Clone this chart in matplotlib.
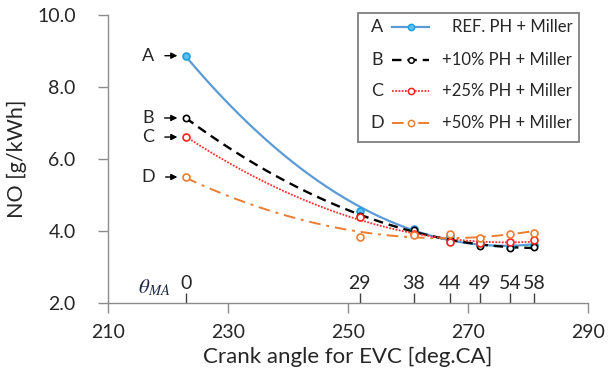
import matplotlib
matplotlib.use("Agg")
import matplotlib.pyplot as plt
import numpy as np
from matplotlib.patches import Rectangle
from matplotlib.lines import Line2D
import matplotlib.transforms as mtransforms

plt.rcParams['font.family'] = ['Lato', 'DejaVu Sans']
plt.rcParams['mathtext.fontset'] = 'stix'

# Crank angle at exhaust valve closing and matching Miller advance
theta_ma = [0, 29, 38, 44, 49, 54, 58]
crank_evc = [223, 252, 261, 267, 272, 277, 281]

series_letters = ['A', 'B', 'C', 'D']
series_labels = ['REF. PH + Miller', '+10% PH + Miller',
                 '+25% PH + Miller', '+50% PH + Miller']
no_ref = [8.87, 4.56, 4.05, 3.86, 3.63, 3.56, 3.60]
no_10 = [7.14, 4.43, 4.04, 3.75, 3.59, 3.53, 3.56]
no_25 = [6.61, 4.40, 3.92, 3.69, 3.67, 3.70, 3.75]
no_50 = [5.50, 3.83, 3.90, 3.92, 3.81, 3.92, 3.94]
series_values = [no_ref, no_10, no_25, no_50]

x_ticks = [210, 230, 250, 270, 290]
y_ticks = [2.0, 4.0, 6.0, 8.0, 10.0]

styles = [
    dict(color='#5B9BD5', ls='-', lw=1.6, mfc='#5BC0F0', mec='#1E9FE0', ms=5),
    dict(color='#000000', ls=(0, (4, 2.5)), lw=1.7, mfc='white', mec='#000000', ms=4.5),
    dict(color='#FF3030', ls=(0, (1, 0.8)), lw=1.3, mfc='white', mec='#FF2020', ms=5),
    dict(color='#ED7D31', ls=(0, (6, 3, 1.5, 3)), lw=1.4, mfc='white', mec='#ED7D31', ms=5),
]

text_col = '#262626'
spine_col = '#8C8C8C'

fig = plt.figure(figsize=(6.08, 3.85), dpi=100)
ax = fig.add_axes([0.1771, 0.2130, 0.790, 0.748])
ax.set_xlim(210, 290)
ax.set_ylim(2.0, 10.0)

# measured points with a second-order trend line for each case
x_fit = np.linspace(min(crank_evc), max(crank_evc), 200)
for vals, st in zip(series_values, styles):
    coef = np.polyfit(crank_evc, vals, 2)
    ax.plot(x_fit, np.polyval(coef, x_fit), color=st['color'], ls=st['ls'],
            lw=st['lw'], zorder=2)
    ax.plot(crank_evc, vals, ls='none', marker='o', ms=st['ms'],
            mfc=st['mfc'], mec=st['mec'], mew=1.2, zorder=3)

# letter tags pointing at the first point of each case
for letter, vals in zip(series_letters, series_values):
    ax.annotate(letter, xy=(crank_evc[0], vals[0]), xytext=(-38, 0),
                textcoords='offset pixels', ha='center', va='center',
                fontsize=13, color=text_col,
                arrowprops=dict(arrowstyle='-|>', color='black', lw=1,
                                shrinkA=6, shrinkB=6, mutation_scale=9))

ax.set_xticks(x_ticks)
ax.set_yticks(y_ticks)
ax.set_yticklabels([f'{v:.1f}' for v in y_ticks])
ax.tick_params(axis='x', direction='out', length=7, width=1, color=spine_col,
               labelsize=14, labelcolor=text_col, pad=8)
ax.tick_params(axis='y', direction='out', length=7, width=1, color=spine_col,
               labelsize=14, labelcolor=text_col, pad=16)
for s in ['top', 'right']:
    ax.spines[s].set_visible(False)
for s in ['left', 'bottom']:
    ax.spines[s].set_color(spine_col)
    ax.spines[s].set_linewidth(1)

ax.set_xlabel('Crank angle for EVC [deg.CA]', fontsize=16, color=text_col,
              labelpad=4)
ax.set_ylabel('NO [g/kWh]', fontsize=15.5, color=text_col, labelpad=7)

# Miller advance scale sitting on the x axis
sec = ax.secondary_xaxis(0, functions=(lambda x: x - crank_evc[0],
                                       lambda t: t + crank_evc[0]))
sec.set_xticks(theta_ma)
sec.xaxis.set_ticks_position('top')
sec.tick_params(axis='x', direction='out', length=7, width=1, color='#404040',
                labelsize=14, labelcolor=text_col, labeltop=True,
                labelbottom=False, pad=1)
sec.spines['top'].set_visible(False)
sec.spines['bottom'].set_visible(False)

trans_blend = mtransforms.blended_transform_factory(ax.transData, ax.transAxes)
ax.text(220.4, 0.052, r'$\theta_{MA}$', transform=trans_blend, ha='right',
        va='center', fontsize=15, color='#1F2A44')

# legend box
lx0, lx1, ly0, ly1 = 0.521, 0.981, 0.559, 1.007
ax.add_patch(Rectangle((lx0, ly0), lx1 - lx0, ly1 - ly0, transform=ax.transAxes,
                       facecolor='white', edgecolor='#7F7F7F', lw=1.3,
                       clip_on=False, zorder=5))
row_y = [0.958, 0.844, 0.736, 0.625]
for letter, label, st, yy in zip(series_letters, series_labels, styles, row_y):
    ax.text(0.561, yy, letter, transform=ax.transAxes, ha='center',
            va='center', fontsize=13, color=text_col, zorder=6)
    ax.add_line(Line2D([0.592, 0.669], [yy, yy], transform=ax.transAxes,
                       color=st['color'], ls=st['ls'], lw=st['lw'],
                       clip_on=False, zorder=6))
    ax.add_line(Line2D([0.6305], [yy], transform=ax.transAxes, ls='none',
                       marker='o', ms=st['ms'] - 0.5, mfc=st['mfc'],
                       mec=st['mec'], mew=1.1, clip_on=False, zorder=7))
    ax.text(0.967, yy, label, transform=ax.transAxes, ha='right',
            va='center', fontsize=12, color=text_col, zorder=6)

fig.savefig('out.png', dpi=100)
